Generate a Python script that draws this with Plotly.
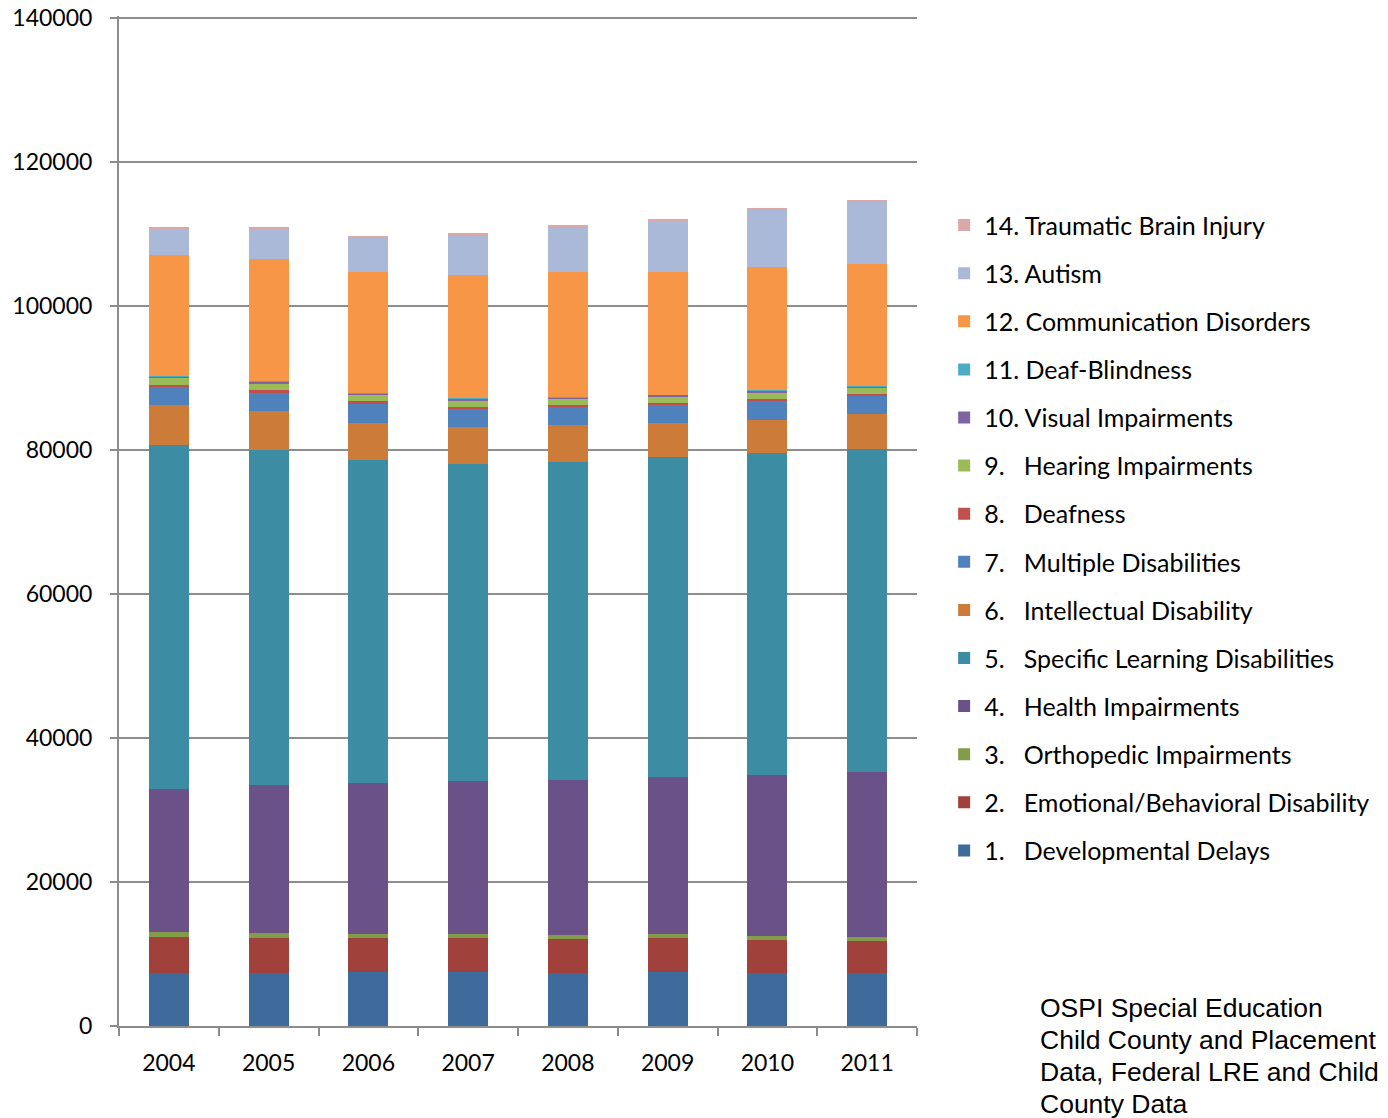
import plotly.graph_objects as go

years = ["2004", "2005", "2006", "2007", "2008", "2009", "2010", "2011"]

developmental_delays = [7350, 7360, 7550, 7550, 7360, 7450, 7360, 7360]
emotional_behavioral = [5000, 4910, 4630, 4670, 4720, 4770, 4630, 4490]
orthopedic = [650, 650, 640, 560, 560, 600, 560, 510]
health = [19900, 20550, 20930, 21250, 21530, 21760, 22310, 22920]
specific_learning = [47780, 46530, 44860, 44030, 44170, 44440, 44760, 44910]
intellectual = [5600, 5460, 5190, 5090, 5090, 4770, 4580, 4770]
multiple = [2450, 2500, 2640, 2500, 2590, 2450, 2690, 2500]
deafness = [370, 370, 320, 370, 280, 370, 220, 320]
hearing = [930, 970, 930, 880, 830, 830, 930, 880]
visual = [220, 220, 220, 220, 220, 220, 220, 220]
deaf_blindness = [60, 60, 60, 60, 60, 60, 60, 60]
communication = [16800, 16990, 16810, 17180, 17270, 17080, 17180, 16900]
autism = [3520, 4070, 4630, 5460, 6250, 6990, 7820, 8565]
tbi = [320, 370, 320, 320, 320, 340, 320, 320]

source_lines = [
    "OSPI Special Education",
    "Child County and Placement",
    "Data, Federal LRE and Child",
    "County Data",
]

NB = "\u00a0"
series = [
    ("1." + NB * 3 + "Developmental Delays", developmental_delays, "#3F6A9C"),
    ("2." + NB * 3 + "Emotional/Behavioral Disability", emotional_behavioral, "#A0413C"),
    ("3." + NB * 3 + "Orthopedic Impairments", orthopedic, "#839C4A"),
    ("4." + NB * 3 + "Health Impairments", health, "#6A5187"),
    ("5." + NB * 3 + "Specific Learning Disabilities", specific_learning, "#3C8CA3"),
    ("6." + NB * 3 + "Intellectual Disability", intellectual, "#CC7B38"),
    ("7." + NB * 3 + "Multiple Disabilities", multiple, "#4F81BD"),
    ("8." + NB * 3 + "Deafness", deafness, "#C0504D"),
    ("9." + NB * 3 + "Hearing Impairments", hearing, "#9BBB59"),
    ("10. Visual Impairments", visual, "#8064A2"),
    ("11. Deaf-Blindness", deaf_blindness, "#4BACC6"),
    ("12. Communication Disorders", communication, "#F79646"),
    ("13. Autism", autism, "#AAB9D8"),
    ("14. Traumatic Brain Injury", tbi, "#DBA8A7"),
]

fig = go.Figure()
n = len(series)
for i, (name, vals, color) in enumerate(series):
    fig.add_trace(go.Bar(
        x=years, y=vals, name=name, legendgroup=f"g{i}", legendrank=100 + n - i,
        marker=dict(color=color, line=dict(width=0)),
    ))

grid = "#8C8C8C"
annotations = []
line_ys = [0.01786, -0.01389, -0.04563, -0.07738]
for txt, yy in zip(source_lines, line_ys):
    annotations.append(dict(
        text=txt, xref="paper", yref="paper", x=1.1516, y=yy,
        xanchor="left", yanchor="middle", align="left", showarrow=False,
        font=dict(family="Liberation Sans", size=26.5, color="black"),
    ))

fig.update_layout(
    barmode="stack",
    bargap=0.6,
    width=1380, height=1110,
    margin=dict(l=111, r=471, t=8, b=92, autoexpand=False),
    plot_bgcolor="white", paper_bgcolor="white",
    font=dict(family="Lato", size=23, color="black"),
    legend=dict(
        traceorder="grouped", x=1.034, xanchor="left", y=0.8155, yanchor="top",
        font=dict(family="Lato", size=25, color="black"),
        tracegroupgap=12.6, itemwidth=30,
    ),
    xaxis=dict(
        type="category", showline=True, linecolor=grid, linewidth=2,
        ticks="outside", tickson="boundaries", ticklen=8, tickcolor=grid, tickwidth=2,
        ticklabelstandoff=15, showgrid=False, automargin=False,
        tickfont=dict(family="Lato", size=23),
    ),
    yaxis=dict(
        range=[0, 140300], tickvals=[0, 20000, 40000, 60000, 80000, 100000, 120000, 140000],
        showline=True, linecolor=grid, linewidth=2,
        ticks="outside", ticklen=7, tickcolor=grid, tickwidth=2,
        showgrid=True, gridcolor=grid, gridwidth=2, zeroline=False,
        tickformat="d", ticklabelstandoff=13, automargin=False, ticklabeloverflow="allow",
        tickfont=dict(family="Lato", size=23),
    ),
    annotations=annotations,
)

fig.write_html("out.html")
